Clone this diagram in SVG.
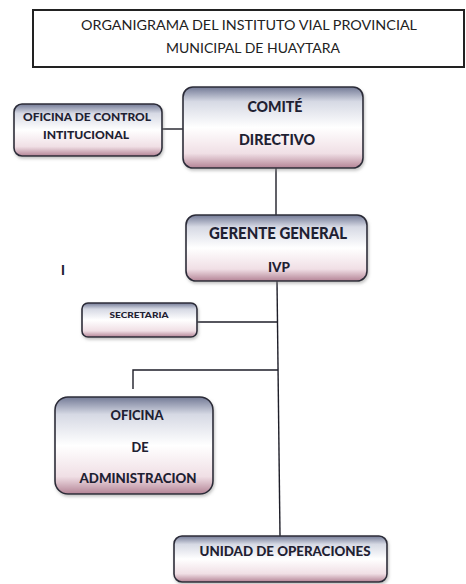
<svg xmlns="http://www.w3.org/2000/svg" width="466" height="584" viewBox="0 0 466 584">
<defs>
<linearGradient id="g" x1="0" y1="0" x2="0" y2="1">
<stop offset="0" stop-color="#737a96"/>
<stop offset="0.18" stop-color="#d6d9e4"/>
<stop offset="0.5" stop-color="#ffffff"/>
<stop offset="0.82" stop-color="#f0dfe5"/>
<stop offset="1" stop-color="#b48496"/>
</linearGradient>
<filter id="sh" x="-10%" y="-10%" width="125%" height="130%">
<feDropShadow dx="1" dy="2" stdDeviation="1.5" flood-color="#888" flood-opacity="0.5"/>
</filter>
</defs>
<style>
.box{fill:url(#g);stroke:#2c2c38;stroke-width:1.6;filter:url(#sh)}
.t{font-family:Lato,"Open Sans","Liberation Sans",sans-serif;font-weight:900;fill:#1f2132;text-anchor:middle}
.title{font-family:Lato,"Open Sans","Liberation Sans",sans-serif;fill:#222;text-anchor:middle;font-size:14px}
.c{stroke:#1e1e28;stroke-width:1.4;fill:none}
</style>
<rect width="466" height="584" fill="#fff"/>
<g id="title">
<rect x="33" y="10" width="431" height="57" fill="#fff" stroke="#222" stroke-width="2"/>
<text class="title" x="249" y="30" textLength="336" lengthAdjust="spacingAndGlyphs">ORGANIGRAMA DEL INSTITUTO VIAL PROVINCIAL</text>
<text class="title" x="253" y="53" textLength="174" lengthAdjust="spacingAndGlyphs">MUNICIPAL DE HUAYTARA</text>
</g>
<g id="connectors">
<line class="c" x1="162" y1="129" x2="183" y2="129"/>
<line class="c" x1="276" y1="168" x2="276" y2="215"/>
<line class="c" x1="277" y1="281" x2="280" y2="536"/>
<line class="c" x1="197" y1="322" x2="277" y2="322"/>
<polyline class="c" points="278,370 133,370 133,389"/>
</g>
<g id="oficina-control">
<rect class="box" x="14" y="104" width="148" height="52" rx="8"/>
<text class="t" x="87" y="121" font-size="11" textLength="128" lengthAdjust="spacingAndGlyphs">OFICINA DE CONTROL</text>
<text class="t" x="86" y="139" font-size="11" textLength="86" lengthAdjust="spacingAndGlyphs">INTITUCIONAL</text>
</g>
<g id="comite">
<rect class="box" x="183" y="87" width="180" height="81" rx="10"/>
<text class="t" x="275" y="112" font-size="15" textLength="55" lengthAdjust="spacingAndGlyphs">COMITÉ</text>
<text class="t" x="277" y="145" font-size="15" textLength="76" lengthAdjust="spacingAndGlyphs">DIRECTIVO</text>
</g>
<g id="gerente">
<rect class="box" x="186" y="215" width="181" height="66" rx="10"/>
<text class="t" x="278" y="239" font-size="16" textLength="138" lengthAdjust="spacingAndGlyphs">GERENTE GENERAL</text>
<text class="t" x="279" y="272" font-size="14" textLength="22" lengthAdjust="spacingAndGlyphs">IVP</text>
</g>
<text class="t" x="63" y="275" font-size="13">I</text>
<g id="secretaria">
<rect class="box" x="82" y="303" width="115" height="34" rx="6"/>
<text class="t" x="139" y="318" font-size="8" textLength="59" lengthAdjust="spacingAndGlyphs">SECRETARIA</text>
</g>
<g id="oficina-admin">
<rect class="box" x="55" y="397" width="158" height="97" rx="13"/>
<text class="t" x="137" y="420" font-size="13" textLength="53" lengthAdjust="spacingAndGlyphs">OFICINA</text>
<text class="t" x="140" y="452" font-size="13" textLength="17" lengthAdjust="spacingAndGlyphs">DE</text>
<text class="t" x="138" y="483" font-size="13" textLength="117" lengthAdjust="spacingAndGlyphs">ADMINISTRACION</text>
</g>
<g id="unidad">
<rect class="box" x="174" y="536" width="213" height="46" rx="8"/>
<text class="t" x="285" y="556" font-size="13" textLength="171" lengthAdjust="spacingAndGlyphs">UNIDAD DE OPERACIONES</text>
</g>
</svg>
